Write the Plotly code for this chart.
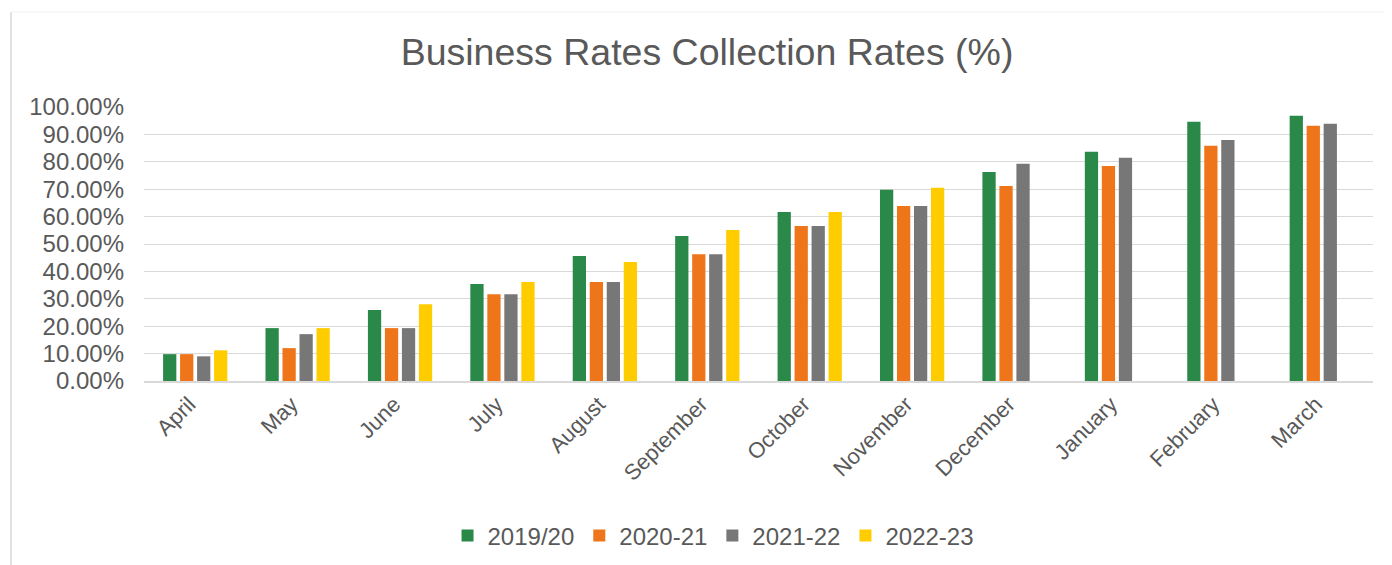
import plotly.graph_objects as go

months = ["April", "May", "June", "July", "August", "September", "October",
          "November", "December", "January", "February", "March"]

# collection rates as fractions
rates_2019_20 = [0.098, 0.193, 0.259, 0.354, 0.456, 0.529, 0.617, 0.698, 0.763, 0.837, 0.946, 0.968]
rates_2020_21 = [0.098, 0.120, 0.193, 0.317, 0.361, 0.463, 0.566, 0.639, 0.712, 0.785, 0.859, 0.932]
rates_2021_22 = [0.090, 0.171, 0.193, 0.317, 0.361, 0.463, 0.566, 0.639, 0.793, 0.815, 0.880, 0.939]
rates_2022_23 = [0.112, 0.193, 0.280, 0.361, 0.434, 0.551, 0.617, 0.705, None, None, None, None]

series = [
    ("2019/20", rates_2019_20, "#2A8849"),
    ("2020-21", rates_2020_21, "#EE7519"),
    ("2021-22", rates_2021_22, "#777777"),
    ("2022-23", rates_2022_23, "#FFCC00"),
]

font_family = "Arial, Liberation Sans, sans-serif"
text_grey = "#595959"
grid_grey = "#D9D9D9"

# page body has an 8px margin, so the figure is a bit smaller than the window
W, H = 1384, 557

fig = go.Figure()
for name, vals, colour in series:
    fig.add_trace(go.Bar(x=months, y=vals, name=name, marker_color=colour,
                         marker_line_width=0))

fig.update_layout(
    width=W, height=H,
    margin=dict(l=136, r=19, t=99, b=184, autoexpand=False),
    paper_bgcolor="white", plot_bgcolor="white",
    font=dict(family=font_family, size=23, color=text_grey),
    barmode="group", bargap=0.336, bargroupgap=0.22,
    title=dict(text="Business Rates Collection Rates (%)",
               font=dict(size=37.5, color=text_grey, family=font_family),
               x=(707 - 8) / W, xanchor="center", xref="container",
               y=1 - 44 / H, yanchor="middle", yref="container"),
    legend=dict(orientation="h", x=0.463, xanchor="center",
                y=-0.565, yanchor="middle",
                font=dict(size=24, color=text_grey), itemwidth=30,
                traceorder="normal"),
    showlegend=True,
)

fig.update_xaxes(tickangle=-45, showgrid=False, showline=True,
                 linecolor=grid_grey, linewidth=1.5, ticks="",
                 ticklabelshift=-6,
                 tickfont=dict(size=22, color=text_grey))
fig.update_yaxes(range=[0, 1], dtick=0.1, tickformat=".2%",
                 showgrid=True, gridcolor=grid_grey, gridwidth=1.2,
                 zeroline=False, showline=False, ticks="",
                 ticklabelstandoff=19,
                 tickfont=dict(size=24, color=text_grey))

# chart frame: left border and faint top border
fig.add_shape(type="line", xref="paper", yref="paper",
              x0=-0.1082, x1=-0.1082, y0=1.347, y1=-0.68,
              line=dict(color=grid_grey, width=1.5))
fig.add_shape(type="line", xref="paper", yref="paper",
              x0=-0.1082, x1=1.02, y0=1.347, y1=1.347,
              line=dict(color="#F2F2F2", width=1))

fig.write_html("out.html")
